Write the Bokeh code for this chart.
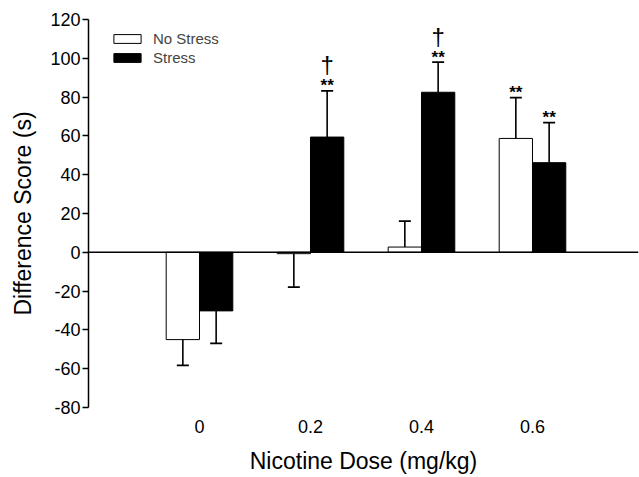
from bokeh.plotting import figure
from bokeh.models import Span, Legend, LegendItem, ColumnDataSource, FixedTicker
from bokeh.embed import file_html
from bokeh.resources import INLINE
from bokeh.core.properties import value

# ---- data ----
doses = ["0", "0.2", "0.4", "0.6"]
no_stress = [-45.0, -0.7, 2.7, 58.7]
no_stress_sem = [13.3, 17.2, 13.4, 21.0]
stress = [-30.2, 59.4, 82.5, 46.2]
stress_sem = [16.7, 23.8, 15.5, 20.6]
sig_no_stress = ["", "", "", "**"]
sig_stress = ["", "**", "**", "**"]
dagger_no_stress = ["", "", "", ""]
dagger_stress = ["", "\u2020", "\u2020", ""]
y_ticks = [-80, -60, -40, -20, 0, 20, 40, 60, 80, 100, 120]
y_tick_labels = ["-80", "-60", "-40", "-20", "0", "20", "40", "60", "80",
                 "100", "120"]

FONT = "Liberation Sans"
BAR_W = 0.3
pos = list(range(len(doses)))

p = figure(frame_width=550, frame_height=388, x_range=(-1, 3.955),
           y_range=(-80, 120),
           output_backend="svg", toolbar_location=None,
           min_border_left=88, min_border_right=1, min_border_top=19,
           min_border_bottom=70)
p.xgrid.visible = False
p.ygrid.visible = False
p.outline_line_color = None
p.background_fill_color = "white"


def draw_series(vals, sems, offset, fill, sig, dag):
    xs = [i + offset for i in pos]
    ends = [v + (sm if v >= 0 else -sm) for v, sm in zip(vals, sems)]
    src = ColumnDataSource(dict(x=xs, top=vals, end=ends, sig=sig, dag=dag,
                                base=vals))
    r = p.vbar(x="x", top="top", bottom=0, width=BAR_W, source=src,
               fill_color=fill, line_color="black", line_width=1)
    p.segment(x0="x", y0="base", x1="x", y1="end", source=src,
              line_color="black", line_width=1.6)
    p.scatter(x="x", y="end", marker="dash", size=12, source=src,
              line_color="black", line_width=1.8)
    p.text(x="x", y="end", text="sig", source=src, text_align="center",
           text_baseline="alphabetic", text_font=value(FONT),
           text_font_size="17px", text_font_style="bold", y_offset=-5,
           text_color="black")
    p.text(x="x", y="end", text="dag", source=src, text_align="center",
           text_baseline="alphabetic", text_font=value(FONT),
           text_font_size="24px", y_offset=-26, text_color="black")
    return r


r_ns = draw_series(no_stress, no_stress_sem, -BAR_W / 2, "white",
                   sig_no_stress, dagger_no_stress)
r_s = draw_series(stress, stress_sem, BAR_W / 2, "black",
                  sig_stress, dagger_stress)

p.add_layout(Span(location=0, dimension="width", line_color="black",
                  line_width=1.5))

legend = Legend(items=[LegendItem(label="No Stress", renderers=[r_ns]),
                       LegendItem(label="Stress", renderers=[r_s])],
                location=(22, 340), orientation="vertical",
                border_line_alpha=0, background_fill_alpha=0,
                glyph_width=34, glyph_height=11, label_standoff=9,
                label_text_font=FONT, label_text_font_size="15px",
                padding=0, margin=0, spacing=0, label_height=19)
p.add_layout(legend)

# y axis
ya = p.yaxis[0]
ya.ticker = FixedTicker(ticks=y_ticks)
ya.major_label_overrides = {t: s for t, s in zip(y_ticks, y_tick_labels)}
ya.major_tick_out = 6
ya.major_tick_in = 0
ya.minor_tick_line_color = None
ya.axis_line_width = 1.5
ya.major_tick_line_width = 1.5
ya.major_label_standoff = 2
ya.major_label_text_font = FONT
ya.major_label_text_font_size = "18px"
ya.major_label_text_color = "black"
ya.axis_label = "Difference Score (s)"
ya.axis_label_text_font = FONT
ya.axis_label_text_font_style = "normal"
ya.axis_label_text_font_size = "23px"
ya.axis_label_text_color = "black"
ya.axis_label_standoff = 11

# x axis
xa = p.xaxis[0]
xa.ticker = FixedTicker(ticks=pos)
xa.major_label_overrides = {i: d for i, d in zip(pos, doses)}
xa.axis_line_color = None
xa.major_tick_line_color = None
xa.minor_tick_line_color = None
xa.major_label_standoff = 6
xa.major_label_text_font = FONT
xa.major_label_text_font_size = "18px"
xa.major_label_text_color = "black"
xa.axis_label = "Nicotine Dose (mg/kg)"
xa.axis_label_text_font = FONT
xa.axis_label_text_font_style = "normal"
xa.axis_label_text_font_size = "23px"
xa.axis_label_text_color = "black"
xa.axis_label_standoff = 12

open("out.html", "w").write(file_html(p, INLINE))
